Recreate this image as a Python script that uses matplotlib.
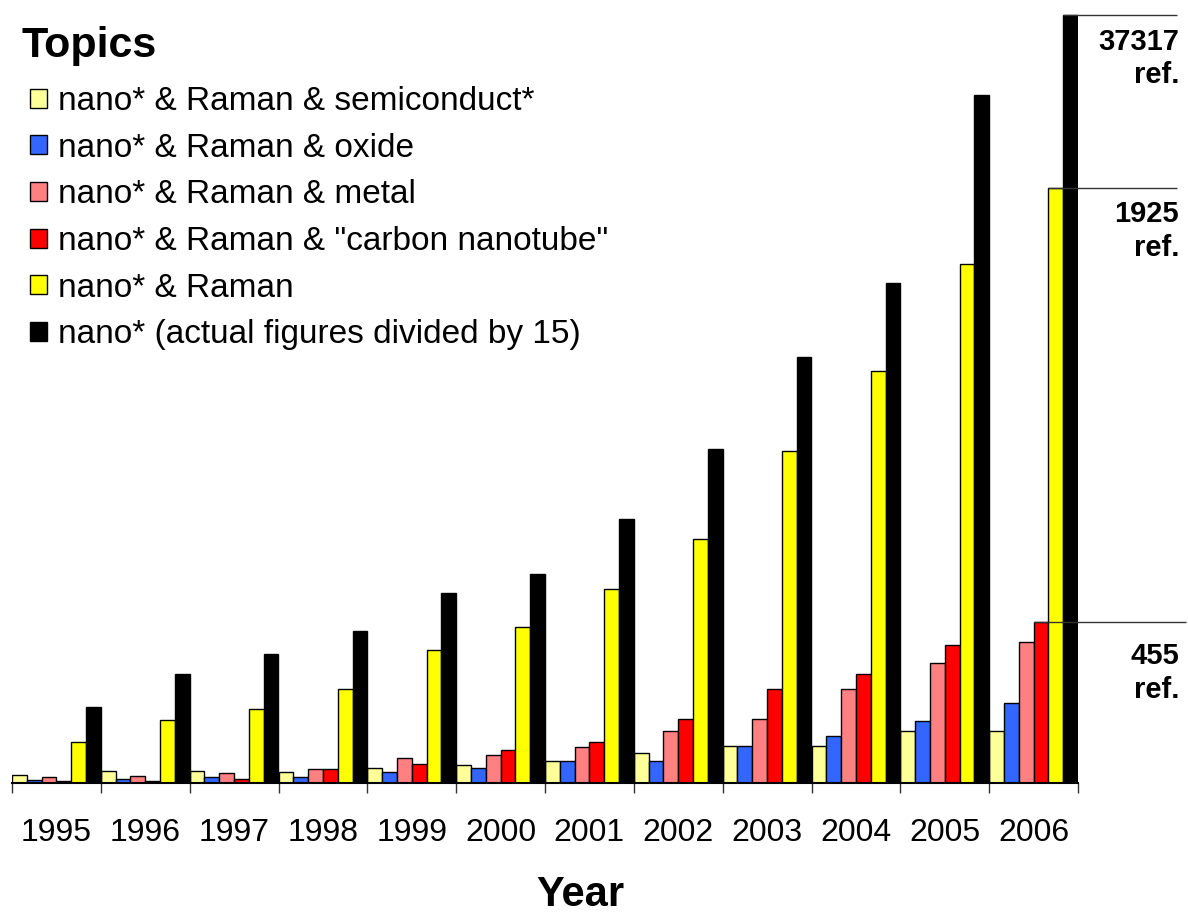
import matplotlib
matplotlib.use("Agg")
import matplotlib.pyplot as plt
from matplotlib.patches import Patch
import numpy as np

years = ["1995", "1996", "1997", "1998", "1999", "2000",
         "2001", "2002", "2003", "2004", "2005", "2006"]

series_labels = [
    "nano* & Raman & semiconduct*",
    "nano* & Raman & oxide",
    "nano* & Raman & metal",
    "nano* & Raman & \"carbon nanotube\"",
    "nano* & Raman",
    "nano* (actual figures divided by 15)",
]

semiconduct = [27, 40, 40, 36, 49, 57, 71, 98, 120, 120, 169, 169]
oxide = [9, 13, 19, 19, 36, 49, 71, 71, 120, 152, 201, 260]
metal = [18, 23, 31, 44, 80, 90, 117, 169, 206, 304, 390, 456]
carbon_nanotube = [6, 6, 14, 44, 63, 107, 134, 206, 304, 353, 447, 523]
raman = [134, 205, 241, 305, 430, 504, 629, 792, 1077, 1336, 1681, 1928]
nano_div15 = [247, 354, 417, 492, 614, 676, 855, 1083, 1379, 1620, 2228, 2488]

ref_labels = ["37317\nref.", "1925\nref.", "455\nref."]

colors = ["#FFFF99", "#3366FF", "#FF8080", "#FF0000", "#FFFF00", "#000000"]

all_series = [semiconduct, oxide, metal, carbon_nanotube, raman, nano_div15]

W, H = 1188, 915
fig = plt.figure(figsize=(W / 100, H / 100), dpi=100)
ax_left, ax_right, ax_base = 12, 1078, 783
ax = fig.add_axes([ax_left / W, (H - ax_base) / H, (ax_right - ax_left) / W, ax_base / H])

n_groups = len(years)
n_series = len(all_series)
bw = 1.0 / n_series
group_idx = np.arange(n_groups)

for j, (vals, c) in enumerate(zip(all_series, colors)):
    ax.bar(group_idx + (j + 0.5) * bw, vals, width=bw, color=c,
           edgecolor="black", linewidth=1.0, zorder=2)

# y scale: tallest bar top at ~15 px from top of figure
ymax = nano_div15[-1] * ax_base / (ax_base - 15)
ax.set_ylim(0, ymax)
ax.set_xlim(0, n_groups)

for s in ["left", "right", "top"]:
    ax.spines[s].set_visible(False)
ax.spines["bottom"].set_linewidth(1.5)
ax.spines["bottom"].set_zorder(3)
ax.yaxis.set_visible(False)

ax.set_xticks(group_idx + 0.5)
ax.set_xticklabels(years, family=["Liberation Sans Narrow", "Liberation Sans"], fontsize=23)
ax.tick_params(axis="x", which="major", length=0, pad=25)
ax.set_xticks(np.arange(n_groups + 1), minor=True)
ax.tick_params(axis="x", which="minor", length=7.5, width=1.0, color="#333333", direction="out")

# reference lines on the 2006 bars
px_per_x = (ax_right - ax_left) / n_groups
def px2x(px):
    return (px - ax_left) / px_per_x

last = n_groups - 1
ref_vals = [nano_div15[last], raman[last], carbon_nanotube[last]]
ref_starts = [last + 5 * bw, last + 4 * bw, last + 3 * bw]
ref_ends = [px2x(1177), px2x(1177), px2x(1186)]
ref_offsets = [-9, -9, -15]
for v, x0, x1, lab, off in zip(ref_vals, ref_starts, ref_ends, ref_labels, ref_offsets):
    ax.plot([x0, x1], [v, v], color="#333333", lw=1.0, zorder=4, clip_on=False,
            solid_capstyle="butt")
    ax.annotate(lab, xy=(px2x(1179), v), xytext=(0, off), textcoords="offset points",
                ha="right", va="top", multialignment="right", fontsize=21,
                fontweight="bold", family="Liberation Sans", linespacing=1.25,
                annotation_clip=False)

# legend
handles = [Patch(facecolor=c, edgecolor="black", linewidth=1.0) for c in colors]
leg = fig.legend(handles, series_labels, loc="upper left",
                 bbox_to_anchor=(30 / W, 1 - 86 / H), bbox_transform=fig.transFigure,
                 frameon=False, prop={"family": "Liberation Sans", "size": 24},
                 handlelength=0.51, handleheight=0.51, handletextpad=0.32,
                 labelspacing=0.47, borderpad=0, borderaxespad=0)
fig.text(22 / W, 1 - 46 / H, "Topics", fontsize=31, fontweight="bold",
         family="Liberation Sans", ha="left", va="center")

fig.text(580 / W, 1 - 895 / H, "Year", fontsize=30, fontweight="bold",
         family="Liberation Sans", ha="center", va="center")

fig.savefig("out.png", dpi=100)
